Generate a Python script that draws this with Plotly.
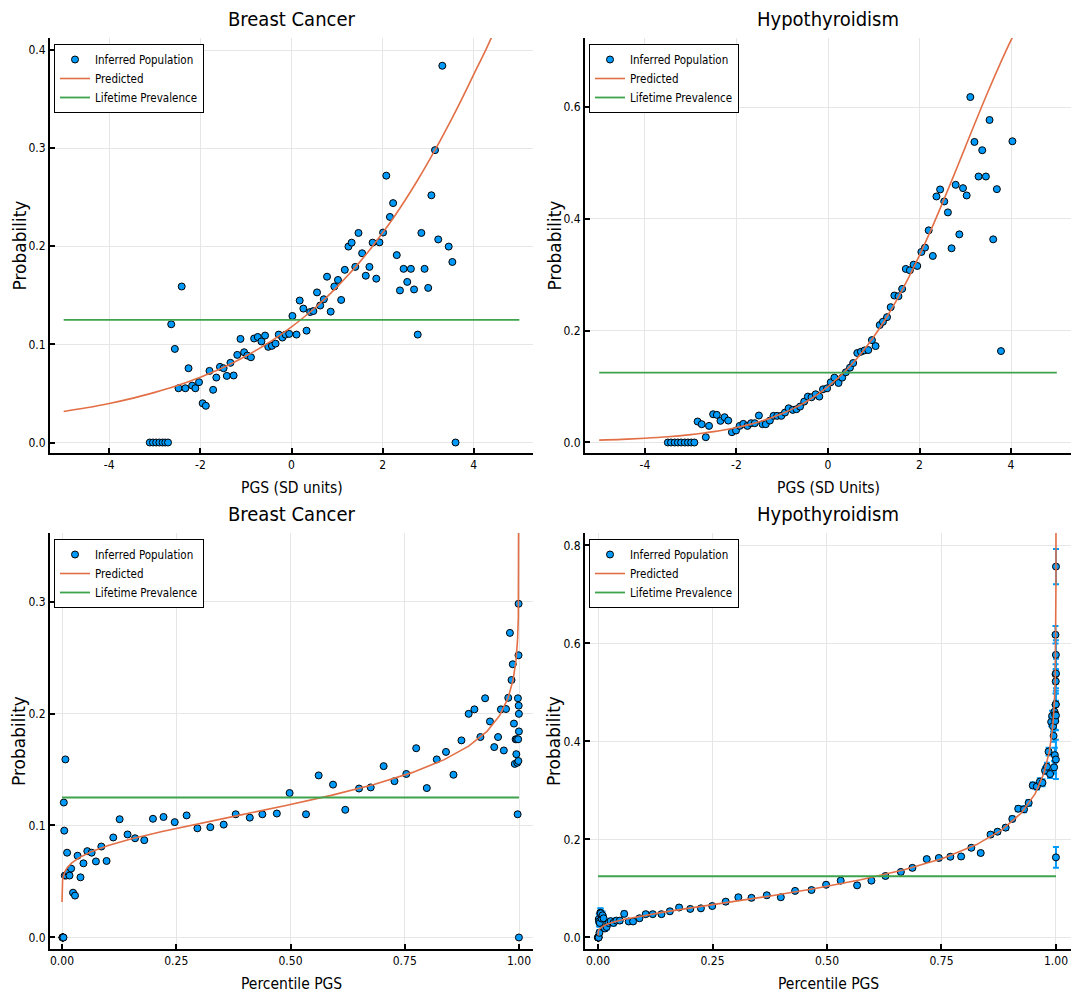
import plotly.graph_objects as go

W, H = 1078, 993

# ---------------- data ----------------
# Breast cancer: PGS bin (SD units), observed probability, percentile of bin
bc_pgs = [-3.11, -3.04, -2.97, -2.90, -2.83, -2.77, -2.71,
          -2.64, -2.56, -2.48, -2.41, -2.33, -2.26, -2.18, -2.11, -2.03, -1.95,
          -1.88, -1.80, -1.72, -1.65, -1.57, -1.49, -1.42, -1.34, -1.27, -1.19,
          -1.12, -1.04, -0.97, -0.89, -0.82, -0.74, -0.66, -0.58, -0.51, -0.43,
          -0.35, -0.28, -0.20, -0.13, -0.05, 0.02, 0.11, 0.18, 0.26, 0.33,
          0.41, 0.48, 0.56, 0.63, 0.71, 0.78, 0.86, 0.94, 1.02, 1.09,
          1.17, 1.25, 1.32, 1.40, 1.47, 1.55, 1.63, 1.71, 1.78, 1.86,
          1.93, 2.01, 2.08, 2.16, 2.23, 2.31, 2.38, 2.46, 2.54, 2.62,
          2.69, 2.77, 2.85, 2.92, 3.00, 3.07, 3.15, 3.22, 3.31, 3.45,
          3.53, 3.60]
bc_prob = [0, 0, 0, 0, 0, 0, 0,
           0.1205, 0.0954, 0.0553, 0.159, 0.0553, 0.0757, 0.058, 0.0553, 0.0615, 0.040,
           0.0374, 0.073, 0.0537, 0.0662, 0.0771, 0.0757, 0.0679, 0.0812, 0.0683, 0.0893,
           0.1056, 0.092, 0.0886, 0.0869, 0.106, 0.1076, 0.103, 0.109, 0.0975, 0.0985,
           0.1008, 0.110, 0.107, 0.110, 0.1107, 0.129, 0.110, 0.1447, 0.1365, 0.114,
           0.133, 0.134, 0.153, 0.1396, 0.146, 0.169, 0.1334, 0.159, 0.1657, 0.1453,
           0.176, 0.1997, 0.2037, 0.179, 0.2136, 0.1929, 0.170, 0.179, 0.2037, 0.167,
           0.204, 0.214, 0.272, 0.2299, 0.244, 0.191, 0.155, 0.177, 0.1637, 0.177,
           0.156, 0.110, 0.2136, 0.177, 0.1576, 0.252, 0.298, 0.207, 0.384, 0.1997,
           0.184, 0.0]
bc_pct = [0.0009, 0.0011, 0.0014, 0.0017, 0.0021, 0.0026, 0.0031,
          0.0039, 0.0049, 0.0061, 0.0074, 0.0092, 0.0111, 0.0137, 0.0164, 0.0199, 0.0241,
          0.0284, 0.0340, 0.0404, 0.0469, 0.0553, 0.0648, 0.0742, 0.0860, 0.0975, 0.1121,
          0.1261, 0.1434, 0.1598, 0.1800, 0.1990, 0.2221, 0.2466, 0.2726, 0.2962, 0.3245,
          0.3538, 0.3801, 0.4109, 0.4384, 0.4701, 0.4980, 0.5339, 0.5616, 0.5930, 0.6198,
          0.6499, 0.6755, 0.7038, 0.7275, 0.7534, 0.7750, 0.7982, 0.8200, 0.8402, 0.8566,
          0.8740, 0.8898, 0.9024, 0.9155, 0.9258, 0.9364, 0.9458, 0.9541, 0.9604, 0.9668,
          0.9716, 0.9765, 0.9801, 0.9836, 0.9863, 0.9889, 0.9907, 0.9926, 0.9941, 0.9953,
          0.9962, 0.9970, 0.9976, 0.9981, 0.9986, 0.9989, 0.9991, 0.9993, 0.9995, 0.9997,
          0.9998, 0.9998]

# Hypothyroidism
hy_pgs = [-3.50, -3.43, -3.35, -3.28, -3.21, -3.13, -3.06, -2.99, -2.92,
          -2.85, -2.76, -2.67, -2.60, -2.51, -2.43, -2.35, -2.26, -2.18, -2.10,
          -2.01, -1.93, -1.85, -1.76, -1.68, -1.60, -1.51, -1.43, -1.36, -1.27,
          -1.19, -1.11, -1.02, -0.94, -0.86, -0.77, -0.69, -0.61, -0.52, -0.44,
          -0.36, -0.27, -0.19, -0.11, -0.02, 0.06, 0.14, 0.23, 0.31, 0.39,
          0.48, 0.55, 0.64, 0.72, 0.80, 0.88, 0.96, 1.04, 1.13, 1.20,
          1.29, 1.37, 1.45, 1.54, 1.62, 1.70, 1.79, 1.87, 1.95, 2.04,
          2.12, 2.20, 2.29, 2.37, 2.45, 2.54, 2.62, 2.70, 2.79, 2.87,
          2.95, 3.03, 3.11, 3.20, 3.29, 3.37, 3.45, 3.53, 3.61, 3.69,
          3.78, 4.03, 4.20]
hy_prob = [0, 0, 0, 0, 0, 0, 0, 0, 0,
           0.0375, 0.0327, 0.0095, 0.0297, 0.0505, 0.0494, 0.0387, 0.0452, 0.0392, 0.0184,
           0.0214, 0.0297, 0.0333, 0.0297, 0.0345, 0.0345, 0.0482, 0.0327, 0.0327, 0.0392,
           0.0476, 0.0476, 0.0476, 0.0535, 0.0612, 0.0583, 0.0595, 0.0642, 0.0731, 0.0821,
           0.0809, 0.0862, 0.0821, 0.0951, 0.0969, 0.1076, 0.116, 0.1064, 0.116, 0.1255,
           0.1338, 0.1421, 0.16, 0.1623, 0.1647, 0.1653, 0.1831, 0.1724, 0.210, 0.2159,
           0.2242, 0.242, 0.2628, 0.2616, 0.2747, 0.3104, 0.308, 0.318, 0.3157, 0.3407,
           0.3485, 0.3794, 0.3336, 0.440, 0.4525, 0.4311, 0.4115, 0.3473, 0.4608, 0.3722,
           0.4549, 0.4418, 0.6178, 0.5375, 0.4757, 0.5227, 0.4757, 0.5768, 0.3633, 0.4531,
           0.1635, 0.5387, 0.757]
hy_pct = [0.0002, 0.0003, 0.0003, 0.0004, 0.0005, 0.0007, 0.0009, 0.0011, 0.0014,
          0.0017, 0.0023, 0.0031, 0.0038, 0.0049, 0.0062, 0.0078, 0.0099, 0.0122, 0.0150,
          0.0188, 0.0228, 0.0275, 0.0337, 0.0402, 0.0476, 0.0572, 0.0671, 0.0766, 0.0905,
          0.1042, 0.1195, 0.1385, 0.1569, 0.1770, 0.2014, 0.2247, 0.2494, 0.2789, 0.3064,
          0.3351, 0.3686, 0.3992, 0.4304, 0.4661, 0.4980, 0.5300, 0.5657, 0.5970, 0.6277,
          0.6613, 0.6865, 0.7178, 0.7442, 0.7693, 0.7929, 0.8151, 0.8357, 0.8571, 0.8723,
          0.8902, 0.9046, 0.9175, 0.9303, 0.9404, 0.9493, 0.9581, 0.9648, 0.9705, 0.9761,
          0.9803, 0.9838, 0.9871, 0.9895, 0.9916, 0.9935, 0.9948, 0.9959, 0.9968, 0.9975,
          0.9981, 0.9985, 0.9989, 0.9991, 0.9994, 0.9995, 0.9997, 0.9998, 0.9998, 0.9999,
          0.9999, 1.0, 1.0]
hy_err = [0, 0, 0, 0, 0, 0, 0, 0, 0,
          0.010, 0.010, 0.006, 0.008, 0.009, 0.009, 0.008, 0.008, 0.007, 0.005,
          0.005, 0.005, 0.005, 0.005, 0.005, 0.005, 0.005, 0.004, 0.004, 0.004,
          0.004, 0.004, 0.004, 0.004, 0.004, 0.004, 0.004, 0.004, 0.004, 0.004,
          0.004, 0.004, 0.004, 0.004, 0.004, 0.004, 0.004, 0.004, 0.004, 0.004,
          0.004, 0.004, 0.004, 0.004, 0.004, 0.004, 0.004, 0.004, 0.004, 0.004,
          0.005, 0.005, 0.005, 0.006, 0.006, 0.006, 0.006, 0.007, 0.007, 0.007,
          0.008, 0.008, 0.008, 0.009, 0.010, 0.011, 0.012, 0.013, 0.014, 0.015,
          0.016, 0.018, 0.018, 0.020, 0.022, 0.025, 0.028, 0.030, 0.040, 0.030,
          0.021, 0.030, 0.036]

# Predicted curves
pred_pgs = [-5, -4.5, -4, -3.5, -3, -2.75, -2.5, -2.25, -2, -1.75, -1.5, -1.25, -1,
            -0.75, -0.5, -0.25, 0, 0.25, 0.5, 0.75, 1, 1.25, 1.5, 1.75, 2,
            2.25, 2.5, 2.75, 3, 3.5, 4, 4.5, 5]
bc_pred = [0.0316, 0.0354, 0.0398, 0.0450, 0.0511, 0.0545, 0.0582, 0.0623, 0.0666,
           0.0713, 0.0765, 0.0821, 0.0881, 0.0947, 0.1018, 0.1095, 0.1178, 0.1269,
           0.1366, 0.1472, 0.1586, 0.1709, 0.1841, 0.1983, 0.2137, 0.2299, 0.2474,
           0.2660, 0.2857, 0.3284, 0.3753, 0.4260, 0.5203]
bc_pred_pct = [0.0, 0.000003, 0.00003, 0.00021, 0.00124, 0.00275, 0.00577, 0.0114,
               0.0214, 0.0379, 0.0636, 0.1011, 0.1526, 0.2191, 0.2997, 0.3916, 0.4900,
               0.5890, 0.6827, 0.7658, 0.8353, 0.8898, 0.9300, 0.9578, 0.9759, 0.9870,
               0.9934, 0.9968, 0.9985, 0.99977, 0.99997, 0.999997, 1.0]
hy_pred = [0.0042, 0.0056, 0.0076, 0.0103, 0.0141, 0.0165, 0.0194, 0.0228, 0.0268,
           0.0315, 0.0372, 0.0438, 0.0517, 0.0610, 0.0720, 0.0848, 0.1000, 0.1177,
           0.1382, 0.1619, 0.1891, 0.2200, 0.2546, 0.2930, 0.3350, 0.3802, 0.4281,
           0.4778, 0.5283, 0.6281, 0.7195, 0.7969, 0.858]
hy_pred_pct = [0.0, 0.000003, 0.00003, 0.00017, 0.00106, 0.00239, 0.0051, 0.0102,
               0.0192, 0.0344, 0.0584, 0.0938, 0.1429, 0.2071, 0.2857, 0.3762, 0.4741,
               0.5736, 0.6686, 0.7538, 0.8256, 0.8825, 0.9248, 0.9543, 0.9737, 0.9857,
               0.9927, 0.9964, 0.9984, 0.9997, 0.99997, 0.999997, 1.0]

prev_pgs = [-5, 5]
prev_pct = [0, 1]
prevalence = [0.125, 0.125]

titles = ["Breast Cancer", "Hypothyroidism", "Breast Cancer", "Hypothyroidism"]
xlabels = ["PGS (SD units)", "PGS (SD Units)", "Percentile PGS", "Percentile PGS"]
ylabel = "Probability"
legend_names = ["Inferred Population", "Predicted", "Lifetime Prevalence"]

# ---------------- style ----------------
BLUE = "#009AFA"
ORANGE = "#E26F46"
GREEN = "#3DA44D"
NARROW = "Liberation Sans Narrow, Arial Narrow, DejaVu Sans Condensed, sans-serif"
WIDE = "DejaVu Sans, sans-serif"

# panel boxes in pixels: (left, right, top, bottom)
boxes = [(50, 533, 38, 453), (585, 1071, 38, 453), (50, 533, 533, 949), (585, 1071, 533, 949)]
xranges = [[-5.3, 5.3], [-5.31, 5.31], [-0.0263, 1.0306], [-0.0284, 1.0328]]
yranges = [[-0.0107, 0.4123], [-0.0188, 0.7234], [-0.0103, 0.3612], [-0.0235, 0.8255]]
xticks = [[-4, -2, 0, 2, 4], [-4, -2, 0, 2, 4], [0, 0.25, 0.5, 0.75, 1], [0, 0.25, 0.5, 0.75, 1]]
xticktext = [["-4", "-2", "0", "2", "4"], ["-4", "-2", "0", "2", "4"],
             ["0.00", "0.25", "0.50", "0.75", "1.00"], ["0.00", "0.25", "0.50", "0.75", "1.00"]]
yticks = [[0, 0.1, 0.2, 0.3, 0.4], [0, 0.2, 0.4, 0.6], [0, 0.1, 0.2, 0.3], [0, 0.2, 0.4, 0.6, 0.8]]

fig = go.Figure()

panel_data = [
    (bc_pgs, bc_prob, None, pred_pgs, bc_pred, prev_pgs, "spline"),
    (hy_pgs, hy_prob, None, pred_pgs, hy_pred, prev_pgs, "spline"),
    (bc_pct, bc_prob, None, bc_pred_pct, bc_pred, prev_pct, "linear"),
    (hy_pct, hy_prob, hy_err, hy_pred_pct, hy_pred, prev_pct, "linear"),
]

for i, (px, py, perr, lx, ly, gx, shape) in enumerate(panel_data):
    sfx = "" if i == 0 else str(i + 1)
    xa, ya, lg = "x" + sfx, "y" + sfx, "legend" + sfx
    sc = dict(x=px, y=py, mode="markers", name=legend_names[0], xaxis=xa, yaxis=ya, legend=lg,
              marker=dict(size=7, color=BLUE, line=dict(color="black", width=1)))
    if perr is not None:
        sc["error_y"] = dict(type="data", array=perr, visible=True, color=BLUE, thickness=2, width=3)
    fig.add_trace(go.Scatter(**sc))
    fig.add_trace(go.Scatter(x=lx, y=ly, mode="lines", name=legend_names[1], xaxis=xa, yaxis=ya,
                             legend=lg, line=dict(color=ORANGE, width=1.6, shape=shape)))
    fig.add_trace(go.Scatter(x=gx, y=prevalence, mode="lines", name=legend_names[2], xaxis=xa,
                             yaxis=ya, legend=lg, line=dict(color=GREEN, width=1.8)))

layout = dict(width=W, height=H, margin=dict(l=0, r=0, t=0, b=0),
              paper_bgcolor="white", plot_bgcolor="white", showlegend=True,
              font=dict(family=NARROW, color="black"))
annotations = []
for i, (l, r, t, b) in enumerate(boxes):
    sfx = "" if i == 0 else str(i + 1)
    common = dict(showline=True, linecolor="black", linewidth=2, mirror=False,
                  ticks="inside", ticklen=5, tickwidth=1.5, tickcolor="black",
                  showgrid=True, gridcolor="#e6e6e6", gridwidth=1, zeroline=False,
                  tickfont=dict(family=NARROW, size=12, color="black"))
    layout["xaxis" + sfx] = dict(domain=[l / W, r / W], range=xranges[i], anchor="y" + sfx,
                                 tickvals=xticks[i], ticktext=xticktext[i], **common)
    layout["yaxis" + sfx] = dict(domain=[1 - b / H, 1 - t / H], range=yranges[i], anchor="x" + sfx,
                                 tickvals=yticks[i], tickformat=".1f", **common)
    layout["legend" + sfx] = dict(x=(l + 4) / W, y=1 - (t + 6) / H, xanchor="left", yanchor="top",
                                  bgcolor="white", bordercolor="black", borderwidth=1,
                                  font=dict(family=NARROW, size=11.5, color="black"),
                                  tracegroupgap=0, itemwidth=30)
    cx = (l + r) / 2
    annotations.append(dict(text=titles[i], x=cx / W, y=1 - (t - 19) / H, xref="paper", yref="paper",
                            showarrow=False, xanchor="center", yanchor="middle",
                            font=dict(family=NARROW, size=20, color="black")))
    annotations.append(dict(text=xlabels[i], x=cx / W, y=1 - (b + 35) / H, xref="paper", yref="paper",
                            showarrow=False, xanchor="center", yanchor="middle",
                            font=dict(family=NARROW, size=15.5, color="black")))
    annotations.append(dict(text=ylabel, x=(l - 31) / W, y=1 - ((t + b) / 2) / H, xref="paper",
                            yref="paper", showarrow=False, xanchor="center", yanchor="middle",
                            textangle=-90, font=dict(family=WIDE, size=17, color="black")))
layout["annotations"] = annotations
fig.update_layout(**layout)

fig.write_html("out.html")
